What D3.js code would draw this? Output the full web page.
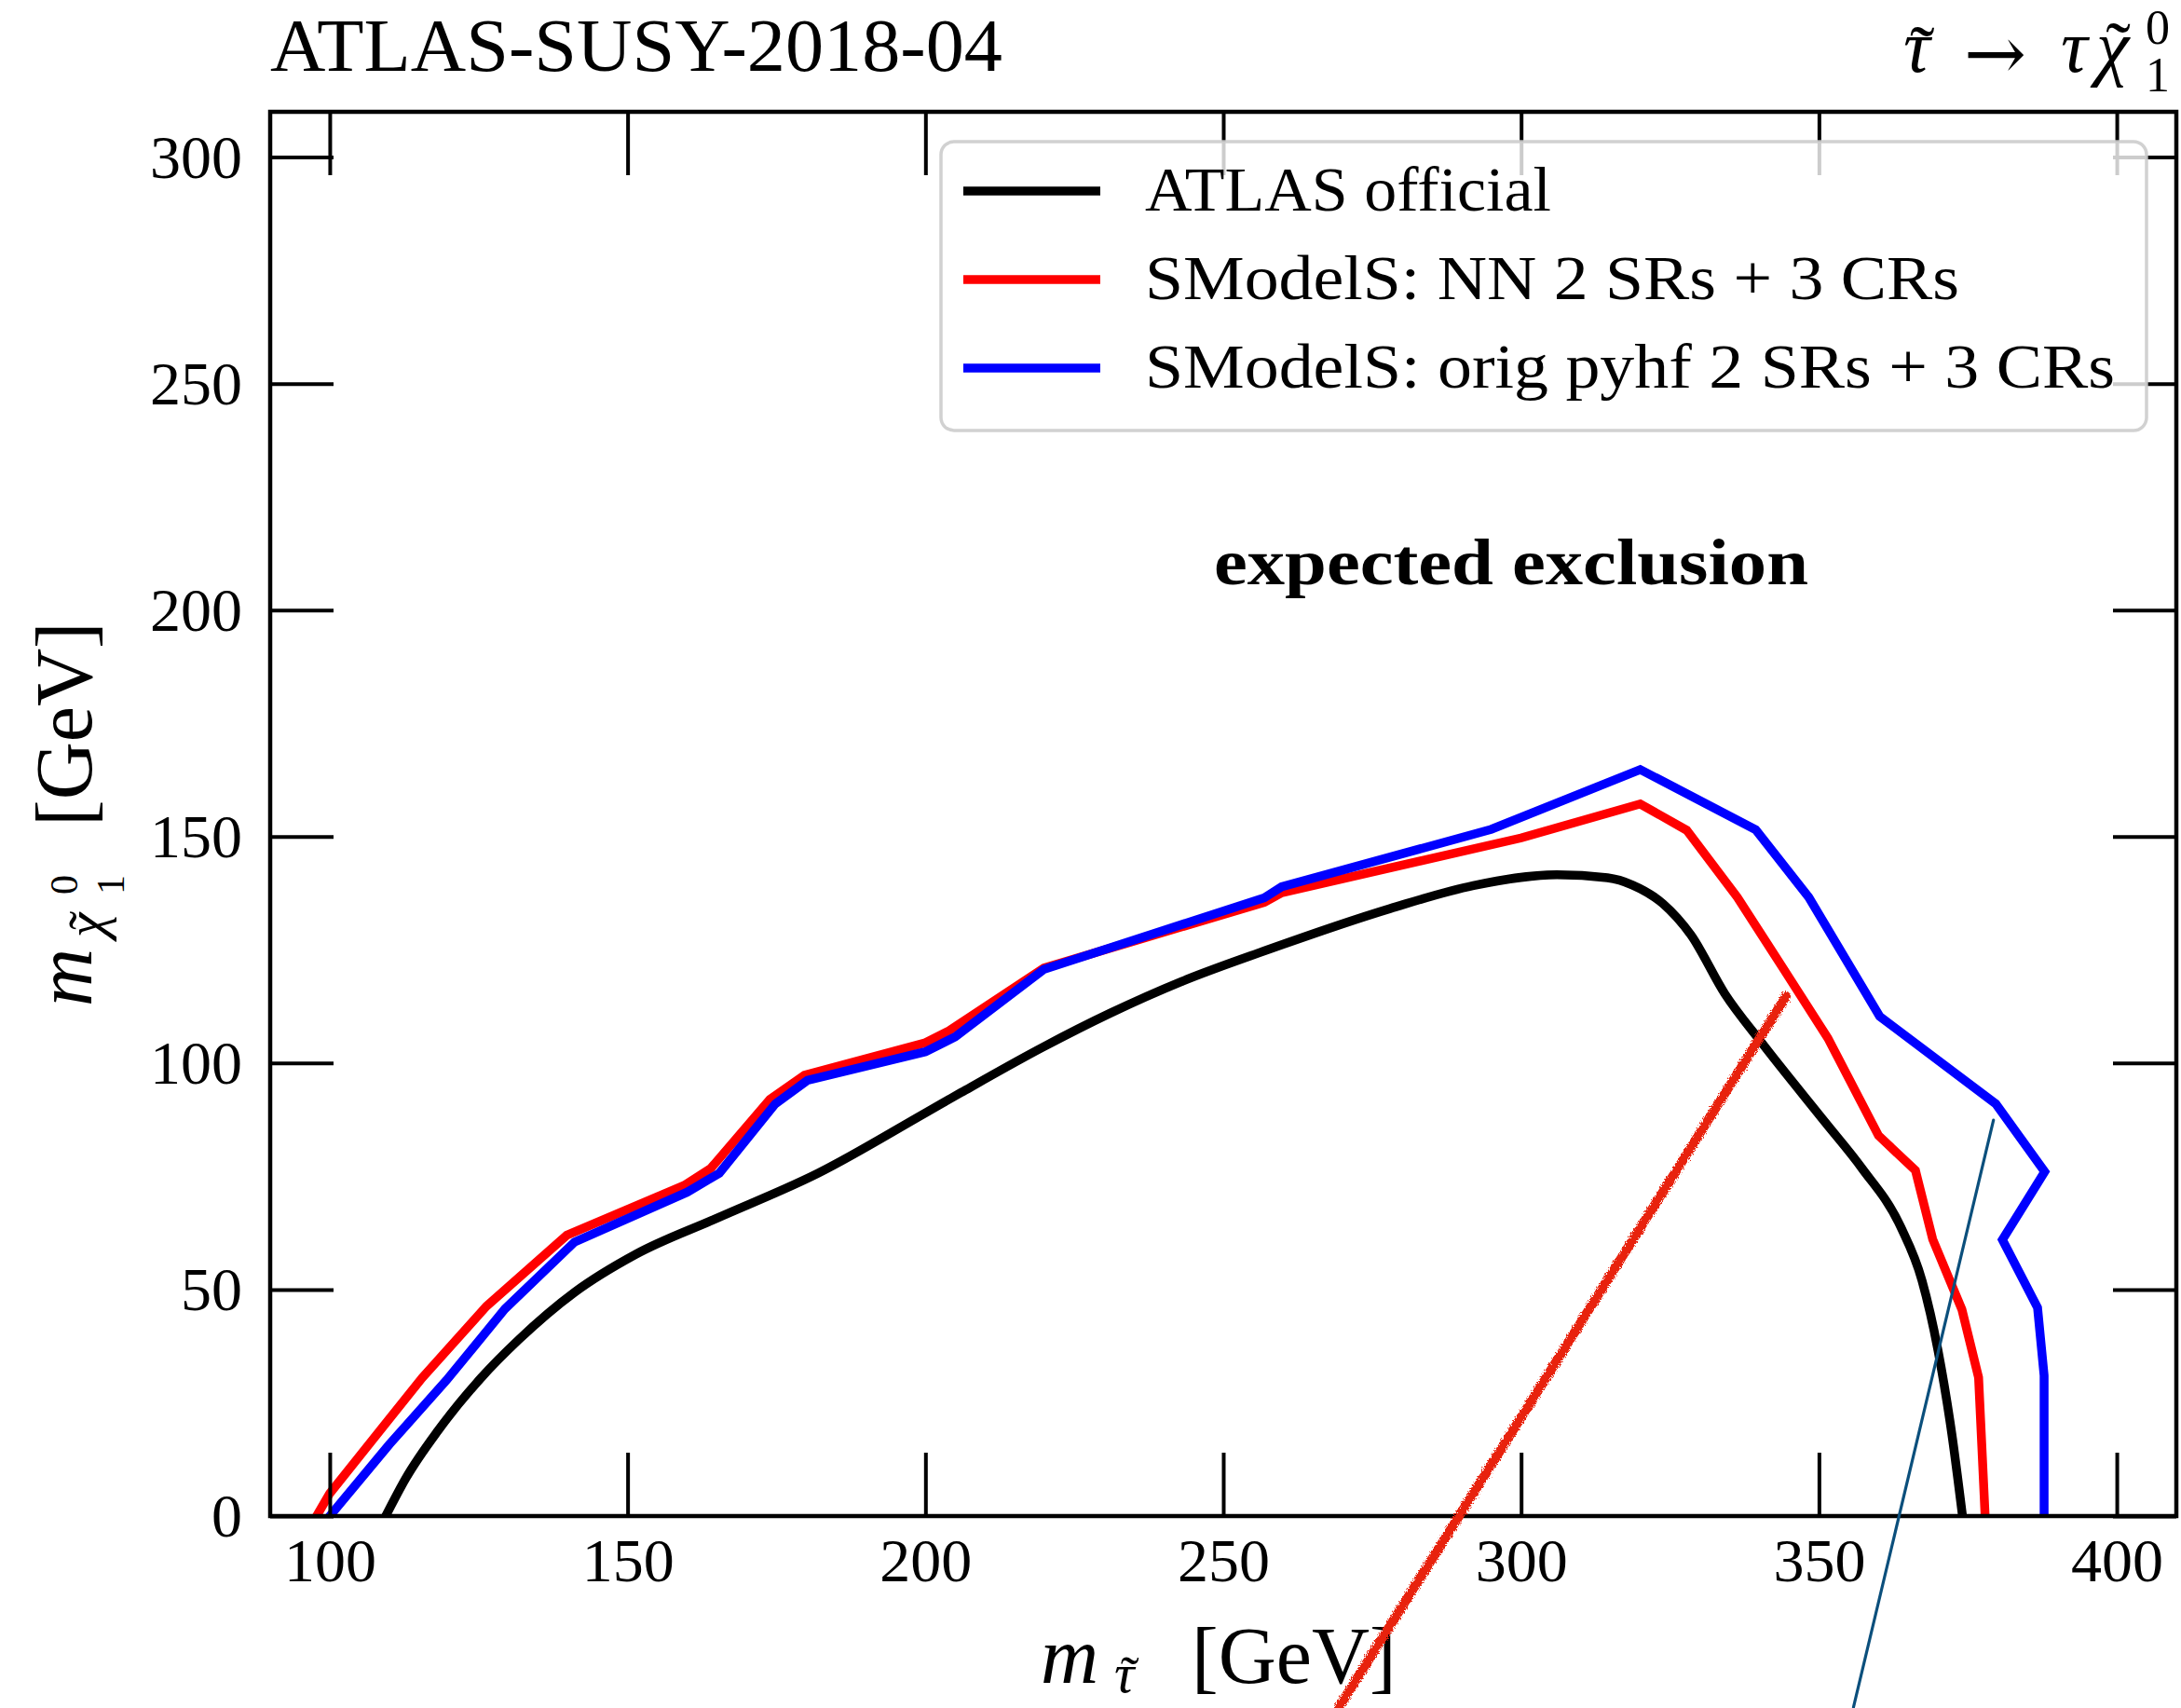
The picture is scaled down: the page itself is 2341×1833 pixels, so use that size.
<!DOCTYPE html>
<html>
<head>
<meta charset="utf-8">
<script src="https://cdn.jsdelivr.net/npm/d3@7"></script>
<style>
  html, body { margin: 0; padding: 0; background: #fff; }
  svg text { font-family: "Liberation Serif", "DejaVu Serif", serif; fill: #000; }
</style>
</head>
<body>
<div id="chart"></div>
<script>
"use strict";

// ---- data ----
var xTicks = [100, 150, 200, 250, 300, 350, 400];
var yTicks = [0, 50, 100, 150, 200, 250, 300];

var atlasOfficial = [
  [109.4, 0], [112.8, 8.4], [118.2, 18.9], [125.4, 30.5], [131.7, 38.9],
  [141.1, 49.4], [151.4, 57.8], [164.9, 65.7], [182, 75.7], [200, 89],
  [206, 93.5], [219.7, 103.5], [231, 111], [243, 118], [257, 124.8],
  [278, 134.1], [292, 139.2], [306, 141.6], [314.5, 140.9], [318.7, 139.3],
  [323.8, 135.2], [328.5, 128.3], [334.2, 115.3], [340.5, 104.3], [351, 87],
  [357.2, 76.8], [363.7, 63.9], [367.3, 52], [370, 36.5], [372.3, 18.2], [374.1, 0]
];

var nnCurve = [
  [97.8, 0], [100, 5], [115.5, 30.5], [126.3, 46.3], [139.8, 62], [159.5, 73],
  [164, 76.8], [173.9, 92], [179.7, 97.3], [200, 104.5], [203.8, 107],
  [219.9, 121], [256.9, 135.5], [259.8, 137.6], [300, 149.7], [320, 157.2],
  [327.8, 151.4], [336.3, 136.6], [344.2, 120.5], [351.5, 105.5], [360, 84],
  [366.2, 76.3], [369.1, 61.1], [374, 45.6], [376.8, 30.6], [377.9, 0]
];

var pyhfCurve = [
  [100, 0], [110, 15.8], [119.6, 30], [129.4, 45.7], [141.1, 60.5], [160, 71.5],
  [165.4, 75.7], [174.8, 91], [180.2, 96.2], [200, 102.5], [205, 105.8],
  [219.9, 120.7], [256.9, 136.5], [259.8, 138.9], [295, 151.6], [320, 164.8],
  [339.4, 151.5], [348.3, 136.6], [360.2, 110.3], [379.7, 91], [387.9, 76],
  [380.8, 61], [386.7, 46], [387.8, 31], [387.8, 0]
];

var legendLabels = ["ATLAS official", "SModelS: NN 2 SRs + 3 CRs", "SModelS: orig pyhf 2 SRs + 3 CRs"];

// the two pen strokes drawn over the figure
var redStroke = [[269.3, -42.4], [344.5, 114.8]];
var tealStroke = [[355.8, -42.2], [379.3, 87.4]];

// ---- layout ----
var W = 2341, H = 1833;
var margin = {top: 120, right: 5, bottom: 206, left: 290};
var tickLen = 68;

var svg = d3.select("#chart").append("svg")
  .attr("width", W).attr("height", H)
  .attr("viewBox", "0 0 " + W + " " + H);

var defs = svg.append("defs");
defs.append("clipPath").attr("id", "plotclip").append("rect")
  .attr("x", margin.left).attr("y", margin.top)
  .attr("width", W - margin.left - margin.right)
  .attr("height", H - margin.top - margin.bottom);
var rough = defs.append("filter").attr("id", "rough")
  .attr("x", "-20%").attr("y", "-5%").attr("width", "140%").attr("height", "110%");
rough.append("feTurbulence").attr("type", "fractalNoise").attr("baseFrequency", 0.7)
  .attr("numOctaves", 2).attr("result", "noise");
rough.append("feDisplacementMap").attr("in", "SourceGraphic").attr("in2", "noise").attr("scale", 5);

var x = d3.scaleLinear().domain([90, 410]).range([margin.left, W - margin.right]);
var y = d3.scaleLinear().domain([0, 310]).range([H - margin.bottom, margin.top]);

var series = [
  {name: legendLabels[0], values: atlasOfficial, color: "#000000", curve: d3.curveMonotoneX},
  {name: legendLabels[1], values: nnCurve, color: "#ff0000", curve: d3.curveLinear},
  {name: legendLabels[2], values: pyhfCurve, color: "#0000ff", curve: d3.curveLinear}
];

// ---- curves ----
var lineGroup = svg.append("g").attr("class", "lines").attr("clip-path", "url(#plotclip)");
lineGroup.selectAll("path").data(series).enter().append("path")
  .attr("d", function(d) {
    return d3.line().x(function(p) { return x(p[0]); }).y(function(p) { return y(p[1]); })
      .curve(d.curve)(d.values);
  })
  .attr("fill", "none")
  .attr("stroke", function(d) { return d.color; })
  .attr("stroke-width", 9.5)
  .attr("stroke-linejoin", "miter")
  .attr("stroke-linecap", "square");

// ---- axes (inward ticks on all four sides) ----
function styleAxis(g) {
  g.select(".domain").remove();
  g.selectAll(".tick line").attr("stroke", "#000").attr("stroke-width", 4);
  g.attr("font-family", null).attr("font-size", null);
}

svg.append("g").attr("transform", "translate(0," + y(0) + ")")
  .call(d3.axisBottom(x).tickValues(xTicks).tickSizeInner(-tickLen).tickSizeOuter(0).tickPadding(0))
  .call(styleAxis)
  .call(function(g) {
    g.selectAll(".tick text").attr("y", 70).attr("dy", 0).style("font-size", "66px");
  });

svg.append("g").attr("transform", "translate(0," + y(310) + ")")
  .call(d3.axisTop(x).tickValues(xTicks).tickSizeInner(-tickLen).tickSizeOuter(0).tickFormat(""))
  .call(styleAxis);

svg.append("g").attr("transform", "translate(" + x(90) + ",0)")
  .call(d3.axisLeft(y).tickValues(yTicks).tickSizeInner(-tickLen).tickSizeOuter(0).tickPadding(30))
  .call(styleAxis)
  .call(function(g) {
    g.selectAll(".tick text").attr("dy", "0.33em").style("font-size", "66px");
  });

svg.append("g").attr("transform", "translate(" + x(410) + ",0)")
  .call(d3.axisRight(y).tickValues(yTicks).tickSizeInner(-tickLen).tickSizeOuter(0).tickFormat(""))
  .call(styleAxis);

// frame
svg.append("rect")
  .attr("x", x(90)).attr("y", y(310))
  .attr("width", x(410) - x(90)).attr("height", y(0) - y(310))
  .attr("fill", "none").attr("stroke", "#000").attr("stroke-width", 4.5);

// ---- legend ----
var legend = svg.append("g").attr("class", "legend");
legend.append("rect")
  .attr("x", 1010).attr("y", 152).attr("width", 1294).attr("height", 310)
  .attr("rx", 14).attr("ry", 14)
  .attr("fill", "#fff").attr("fill-opacity", 0.8)
  .attr("stroke", "#cccccc").attr("stroke-opacity", 0.9).attr("stroke-width", 3.5);

var legendWidths = [436, 874, 1041];
var item = legend.selectAll("g.item").data(series).enter().append("g")
  .attr("class", "item")
  .attr("transform", function(d, i) { return "translate(0," + (205 + i * 95) + ")"; });
item.append("line")
  .attr("x1", 1034).attr("x2", 1181).attr("y1", 0).attr("y2", 0)
  .attr("stroke", function(d) { return d.color; }).attr("stroke-width", 9.5);
item.append("text")
  .attr("x", 1229).attr("y", 21)
  .attr("textLength", function(d, i) { return legendWidths[i]; })
  .attr("lengthAdjust", "spacingAndGlyphs")
  .style("font-size", "67px")
  .text(function(d) { return d.name; });

// ---- titles and labels ----
svg.append("text").attr("x", 290).attr("y", 76)
  .attr("textLength", 786).attr("lengthAdjust", "spacingAndGlyphs")
  .style("font-size", "80px").text("ATLAS-SUSY-2018-04");

svg.append("text").attr("x", 1303).attr("y", 627)
  .attr("textLength", 638).attr("lengthAdjust", "spacingAndGlyphs")
  .style("font-size", "70px").style("font-weight", "bold")
  .text("expected exclusion");

// pieces of a math label, all inside one <text>
function part(t, str, px, py, size, italic) {
  return t.append("tspan").attr("x", px).attr("y", py)
    .style("font-size", size + "px").style("font-style", italic ? "italic" : "normal")
    .text(str);
}
function tildeOver(t, letter, px, py, size, dx, lift) {
  var w = letter.node().getComputedTextLength();
  return t.append("tspan").attr("x", px + w / 2 + dx).attr("y", py + lift)
    .attr("text-anchor", "middle")
    .style("font-size", size + "px").style("font-style", "normal")
    .text("\u02DC");
}

// top-right process label
var proc = svg.append("text");
var tau1 = part(proc, "\u03C4", 2043, 77, 80, true);
tildeOver(proc, tau1, 2043, 77, 80, 6, 6);
part(proc, "\u2192", 2108, 85, 80, false).style("font-family", "'DejaVu Serif', serif");
part(proc, "\u03C4", 2212, 77, 80, true);
var chi1 = part(proc, "\u03C7", 2250, 77, 80, true);
tildeOver(proc, chi1, 2250, 77, 80, 6, 2);
part(proc, "0", 2303, 47, 52, false);
part(proc, "1", 2303, 98, 52, false);

// x-axis label
var xl = svg.append("text");
part(xl, "m", 1117, 1806, 86, true);
var tau2 = part(xl, "\u03C4", 1196, 1816, 60, true);
tildeOver(xl, tau2, 1196, 1816, 60, 6, 2);
part(xl, "[GeV]", 1279, 1806, 86, false);

// y-axis label (rotated)
var yl = svg.append("text").attr("transform", "translate(98,1080) rotate(-90)");
part(yl, "m", 0, 0, 86, true);
var chi2 = part(yl, "\u03C7", 74, 14, 60, true);
tildeOver(yl, chi2, 74, 14, 60, 5, 2);
part(yl, "0", 120, -15, 42, false);
part(yl, "1", 120, 35, 42, false);
part(yl, "[GeV]", 193, 0, 86, false);

// ---- pen strokes over the figure ----
var pen = d3.line().x(function(p) { return x(p[0]); }).y(function(p) { return y(p[1]); });
svg.append("path").attr("d", pen(redStroke))
  .attr("fill", "none").attr("stroke", "#e8220f").attr("stroke-width", 10)
  .attr("stroke-linecap", "round").attr("filter", "url(#rough)");
svg.append("path").attr("d", pen(tealStroke))
  .attr("fill", "none").attr("stroke", "#0b4f7c").attr("stroke-width", 3.2)
  .attr("stroke-linecap", "round");
</script>
</body>
</html>
